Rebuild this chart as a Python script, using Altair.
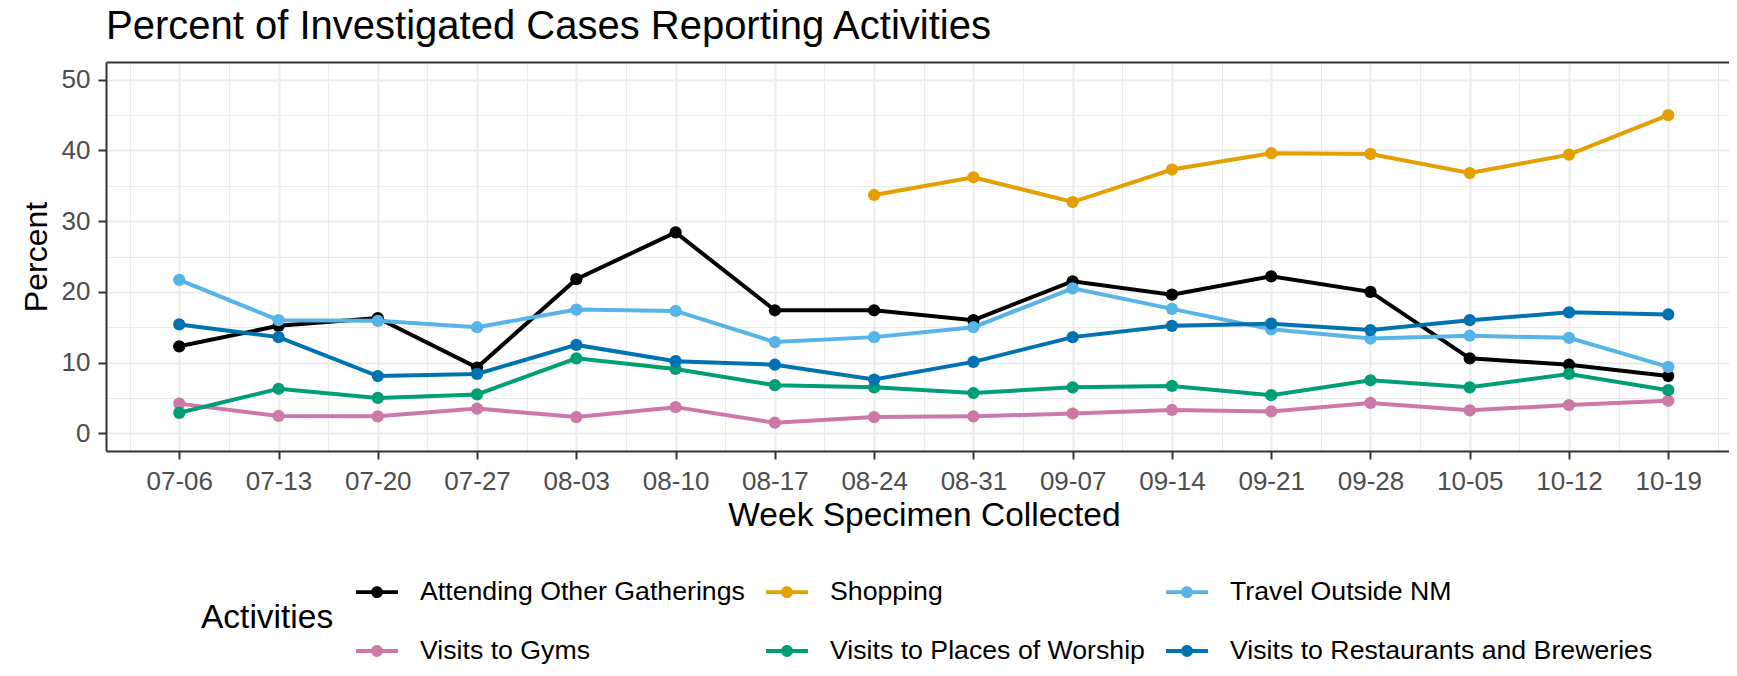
import altair as alt
import pandas as pd

# ---------------- data ----------------
weeks = ["2020-07-06", "2020-07-13", "2020-07-20", "2020-07-27", "2020-08-03",
         "2020-08-10", "2020-08-17", "2020-08-24", "2020-08-31", "2020-09-07",
         "2020-09-14", "2020-09-21", "2020-09-28", "2020-10-05", "2020-10-12",
         "2020-10-19"]

activities = ["Attending Other Gatherings", "Shopping", "Travel Outside NM",
              "Visits to Gyms", "Visits to Places of Worship",
              "Visits to Restaurants and Breweries"]
colors = ["#000000", "#E69F00", "#56B4E9", "#CC79A7", "#009E73", "#0072B2"]

gatherings = [12.3, 15.2, 16.3, 9.3, 21.8, 28.4, 17.4, 17.4, 16.0, 21.5, 19.6, 22.2, 20.0, 10.6, 9.7, 8.1]
shopping = [None, None, None, None, None, None, None, 33.7, 36.2, 32.7, 37.3, 39.6, 39.5, 36.8, 39.4, 45.0]
travel = [21.7, 16.0, 15.9, 15.0, 17.5, 17.3, 12.9, 13.6, 15.0, 20.5, 17.6, 14.7, 13.4, 13.8, 13.5, 9.4]
gyms = [4.2, 2.45, 2.4, 3.5, 2.3, 3.7, 1.5, 2.3, 2.4, 2.8, 3.3, 3.1, 4.3, 3.25, 4.0, 4.6]
worship = [2.9, 6.3, 5.0, 5.5, 10.6, 9.1, 6.8, 6.5, 5.7, 6.5, 6.7, 5.4, 7.5, 6.5, 8.4, 6.1]
restaurants = [15.4, 13.6, 8.1, 8.4, 12.5, 10.2, 9.7, 7.6, 10.1, 13.6, 15.2, 15.5, 14.6, 16.0, 17.1, 16.8]

series = [gatherings, shopping, travel, gyms, worship, restaurants]

y_ticks = [0, 10, 20, 30, 40, 50]
y_minor = [5, 15, 25, 35, 45]

rows = []
for k, (name, vals) in enumerate(zip(activities, series)):
    for w, v in zip(weeks, vals):
        if v is not None:
            rows.append({"week": w, "activity": name, "percent": v, "order": k})
df = pd.DataFrame(rows)


def dt(s, hours=0, minutes=0):
    y, m, d = (int(p) for p in s.split("-"))
    return alt.DateTime(year=y, month=m, date=d, hours=hours, minutes=minutes, utc=True)


major_x = [dt(w) for w in weeks]
minor_days = ["2020-07-02", "2020-07-09", "2020-07-16", "2020-07-23", "2020-07-30",
              "2020-08-06", "2020-08-13", "2020-08-20", "2020-08-27", "2020-09-03",
              "2020-09-10", "2020-09-17", "2020-09-24", "2020-10-01", "2020-10-08",
              "2020-10-15", "2020-10-22"]
minor_x = [dt(d, hours=12) for d in minor_days]

# ---------------- styling ----------------
FONT = "Liberation Sans"
W = 1623
H = 389
BORDER = "#333333"
GRID = "#EBEBEB"

x_scale = alt.Scale(type="utc", domain=[dt("2020-06-30", hours=20),
                                        dt("2020-10-23", hours=6, minutes=48)])
y_scale = alt.Scale(domain=[-2.5, 52.5], nice=False, zero=False)
color_scale = alt.Scale(domain=activities, range=colors)

legend_path = ("M-1,-0.09 L1,-0.09 L1,0.09 L-1,0.09 Z "
               "M0.28,0 A0.28,0.28 0 1,1 -0.28,0 A0.28,0.28 0 1,1 0.28,0 Z")

x_major_axis = alt.Axis(
    values=major_x, labelExpr="utcFormat(datum.value, '%m-%d')", orient="bottom",
    grid=True, gridColor=GRID, gridWidth=2,
    domain=True, domainColor=BORDER, domainWidth=2,
    ticks=True, tickColor=BORDER, tickWidth=2, tickSize=8,
    labelFont=FONT, labelFontSize=26, labelColor="#4D4D4D", labelPadding=9,
    labelFlush=False, labelOverlap=False,
    title="Week Specimen Collected", titleFont=FONT, titleFontSize=33.5,
    titleFontWeight="normal", titleColor="#000000",
    titleX=818, titleY=74, titleBaseline="alphabetic", titleAlign="center")

y_major_axis = alt.Axis(
    values=y_ticks, orient="left",
    grid=True, gridColor=GRID, gridWidth=2,
    domain=True, domainColor=BORDER, domainWidth=2,
    ticks=True, tickColor=BORDER, tickWidth=2, tickSize=8,
    labelFont=FONT, labelFontSize=26, labelColor="#4D4D4D", labelPadding=8,
    labelFlush=False,
    title="Percent", titleFont=FONT, titleFontSize=32, titleFontWeight="normal",
    titleColor="#000000", titleAngle=270, titleX=-60, titleY=H / 2,
    titleBaseline="alphabetic", titleAlign="center")

x_minor_axis = alt.Axis(
    values=minor_x, orient="top", grid=True, gridColor=GRID, gridWidth=1,
    labels=False, ticks=False, domain=True, domainColor=BORDER, domainWidth=2)

y_minor_axis = alt.Axis(
    values=y_minor, orient="right", grid=True, gridColor=GRID, gridWidth=1,
    labels=False, ticks=False, domain=False)

legend = alt.Legend(
    title="Activities", orient="none", legendX=95, legendY=509,
    columns=3, direction="horizontal",
    symbolType=legend_path, symbolSize=1764, symbolStrokeWidth=0, symbolOpacity=1,
    labelFont=FONT, labelFontSize=26.7, labelColor="#000000", labelOffset=22,
    labelLimit=0, columnPadding=21, rowPadding=24,
    titleFont=FONT, titleFontSize=33.5, titleFontWeight="normal", titleColor="#000000",
    titleOrient="left", titleAnchor="middle", titlePadding=22)

base = alt.Chart(df)

lines = base.mark_line(strokeWidth=4).encode(
    x=alt.X("week:T", scale=x_scale, axis=x_major_axis),
    y=alt.Y("percent:Q", scale=y_scale, axis=y_major_axis),
    color=alt.Color("activity:N", scale=color_scale, legend=None),
    order=alt.Order("week:T"),
)

points = base.mark_circle(size=150, opacity=1).encode(
    x=alt.X("week:T", scale=x_scale, axis=x_minor_axis, title=None),
    y=alt.Y("percent:Q", scale=y_scale, axis=y_minor_axis, title=None),
    color=alt.Color("activity:N", scale=color_scale, legend=legend),
    order=alt.Order("order:Q"),
)

chart = alt.layer(lines, points).resolve_axis(
    x="independent", y="independent"
).resolve_legend(color="independent").properties(
    width=W, height=H,
    title=alt.TitleParams(
        text="Percent of Investigated Cases Reporting Activities",
        anchor="start", font=FONT, fontSize=40, fontWeight="normal",
        color="#000000", offset=15, frame="group"),
    autosize=alt.AutoSizeParams(type="none"),
    padding={"left": 98, "top": 54, "right": 0, "bottom": 213},
    background="white",
).configure_view(strokeWidth=0)

chart.save("out.html", embed_options={"renderer": "svg", "actions": False})
